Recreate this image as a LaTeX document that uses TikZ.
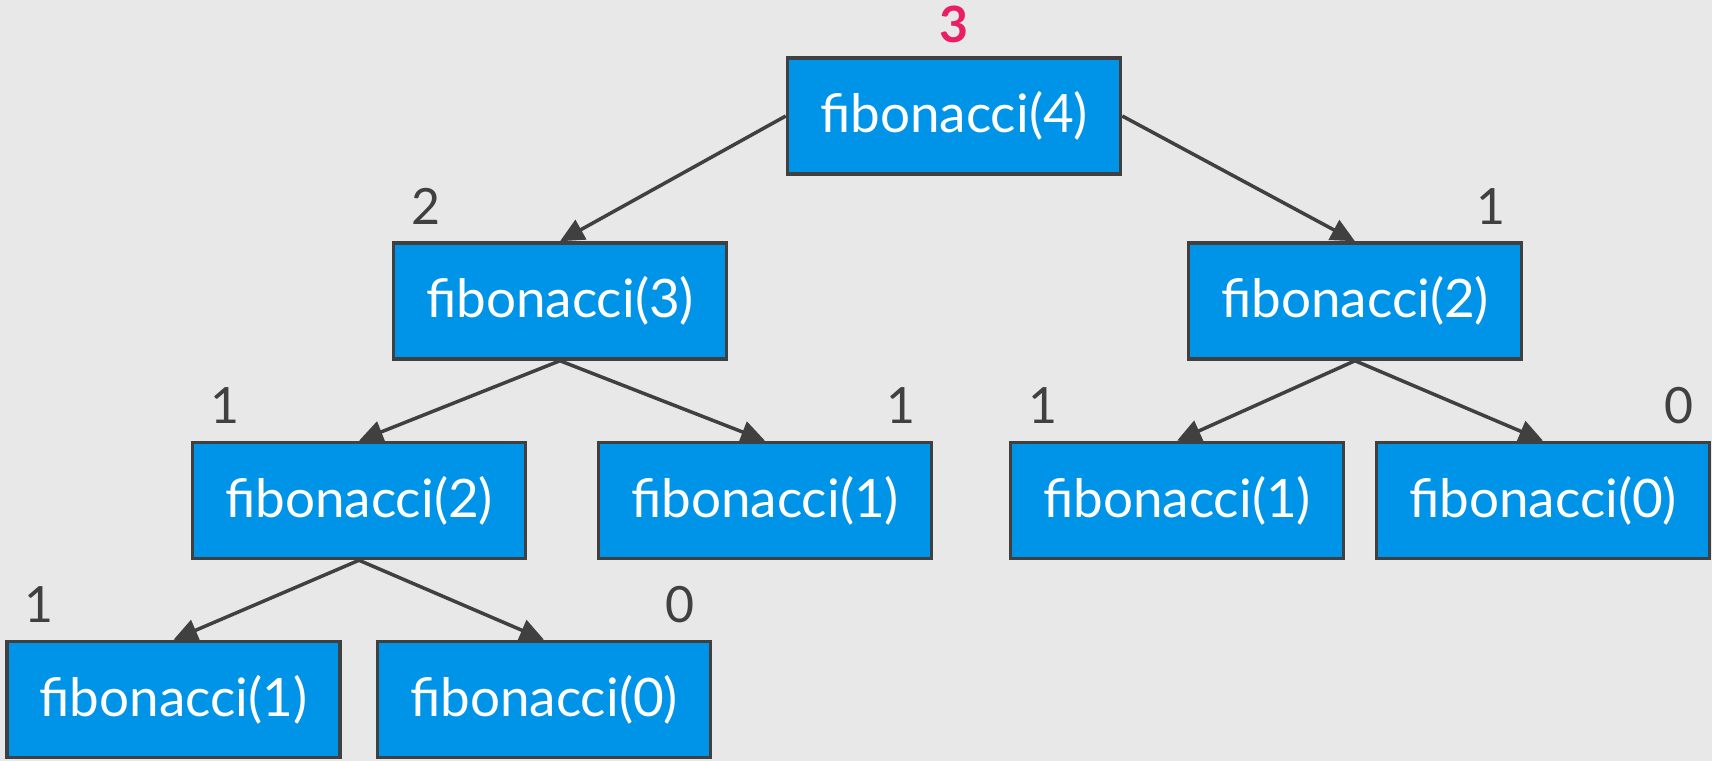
\documentclass[tikz,border=0pt]{standalone}
\usepackage{fontspec}
\setmainfont{Lato}
\usepackage{tikz}
\usetikzlibrary{calc,arrows.meta}
\definecolor{fibblue}{HTML}{0094E8}
\definecolor{edgegray}{HTML}{404040}
\definecolor{bggray}{HTML}{E8E8E8}
\definecolor{respink}{HTML}{E91E63}
\tikzset{
  call/.style={draw=edgegray,line width=3.5pt,fill=fibblue,text=white,minimum width=333pt,minimum height=116pt,inner sep=0pt,font=\fontsize{53}{62}\selectfont},
  ret/.style={text=edgegray,inner sep=0pt,anchor=base,font=\fontsize{50}{60}\selectfont},
  edge/.style={draw=edgegray,line width=3.5pt,-{Triangle[length=24pt,width=22pt]}}
}

\begin{document}
\begin{tikzpicture}[x=1pt,y=-1pt]
                      \fill[bggray](0,0)rectangle(1712,761);
                      \node[call](f4)at(954,116){fibonacci(4)};
                      \node[call](f3)at(560,301){fibonacci(3)};
                      \node[call](f2r)at(1355,301){fibonacci(2)};
                      \node[call](f2l)at(359,500.5){fibonacci(2)};
                      \node[call](f1a)at(765,500.5){fibonacci(1)};
                      \node[call](f1b)at(1177,500.5){fibonacci(1)};
                      \node[call](f0a)at(1543,500.5){fibonacci(0)};
                      \node[call](f1c)at(173.5,699.5){fibonacci(1)};
                      \node[call](f0b)at(544,699.5){fibonacci(0)};
                      \node[ret,text=respink,font=\bfseries\fontsize{50}{60}\selectfont](r4)at($(f4.north)+(0,-14)$){3};
                      \foreach \n/\v in {f3/2, f2l/1, f1b/1, f1c/1} \node[ret](r-\n)at($(\n.north west)+(34,-17)$){\v};
                      \foreach \n/\v in {f2r/1, f1a/1, f0a/0, f0b/0} \node[ret](r-\n)at($(\n.north east)+(-32,-17)$){\v};
                      \draw[edge](f4.west)--(f3.north);
                      \draw[edge](f4.east)--(f2r.north);
                      \foreach \a/\b in {f3/f2l, f3/f1a, f2r/f1b, f2r/f0a, f2l/f1c, f2l/f0b} \draw[edge](\a.south)--(\b.north);
                  \end{tikzpicture}
\end{document}
